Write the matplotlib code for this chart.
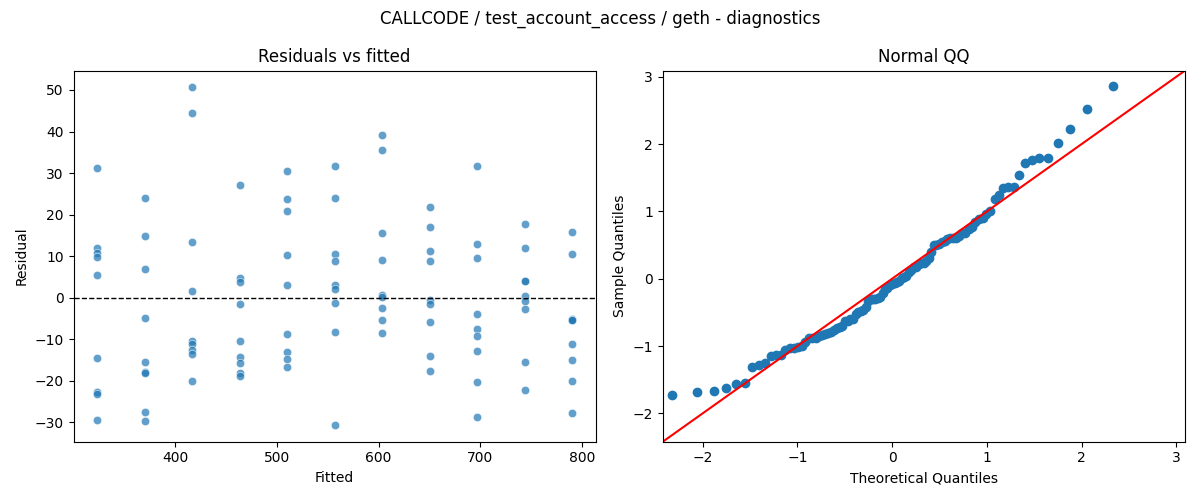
"""Residual diagnostics for one benchmark fit: residuals vs fitted and a normal QQ plot."""

from statistics import NormalDist

import matplotlib
matplotlib.use("Agg")
import matplotlib.pyplot as plt
import numpy as np
import seaborn as sns

TITLE = "CALLCODE / test_account_access / geth - diagnostics"

fitted_levels = [323.5, 370.2, 416.8, 463.5, 510.1, 556.8,
                 603.4, 650.1, 696.7, 743.4, 790.0]
resid_groups = [
    [31.2, 12.0, 10.7, 9.9, 5.4, -14.5, -22.7, -23.2, -29.4],
    [24.0, 14.8, 6.9, -4.9, -15.5, -17.9, -18.1, -27.5, -29.7],
    [50.6, 44.4, 13.4, 1.6, -10.5, -11.1, -12.5, -13.5, -20.0],
    [27.1, 4.7, 3.7, -1.5, -10.5, -14.3, -15.7, -18.1, -18.8],
    [30.4, 23.7, 20.8, 10.3, 3.0, -8.7, -13.1, -14.7, -16.6],
    [31.7, 24.0, 10.6, 8.9, 3.0, 2.2, -1.3, -8.3, -30.6],
    [39.1, 35.5, 15.5, 9.1, 0.7, 0.1, -2.5, -5.4, -8.5],
    [21.8, 17.0, 11.2, 8.8, -0.6, -1.6, -5.8, -14.0, -17.6],
    [31.7, 12.9, 9.5, -3.9, -7.5, -9.2, -12.8, -20.3, -28.7],
    [17.8, 11.9, 4.1, 4.0, 0.3, -0.9, -2.7, -15.5, -22.2],
    [15.8, 10.6, -5.2, -5.3, -5.4, -11.1, -15.0, -20.0, -27.7],
]

# shared x/y limits of the QQ panel (the 45-degree line spans these)
QQ_LIMITS = (-2.42, 3.09)


def _qq_points(resid):
    """Standardised sample quantiles vs normal plotting positions i/(n+1)."""
    data = np.sort(np.asarray(resid, dtype=float))
    n = len(data)
    pos = np.arange(1, n + 1) / (n + 1)
    nd = NormalDist()
    theo = np.array([nd.inv_cdf(p) for p in pos])
    sample = (data - data.mean()) / data.std()
    return theo, sample


fitted = np.concatenate([[f] * len(g) for f, g in zip(fitted_levels, resid_groups)])
resid = np.concatenate(resid_groups)

fig, axes = plt.subplots(1, 2, figsize=(12, 5))
fig.suptitle(TITLE)

ax = axes[0]
sns.scatterplot(x=fitted, y=resid, ax=ax, alpha=0.7)
ax.axhline(0.0, color="black", ls="--", lw=1)
ax.set_xlabel("Fitted")
ax.set_ylabel("Residual")
ax.set_title("Residuals vs fitted")

ax = axes[1]
theo, sample = _qq_points(resid)
ax.plot(theo, sample, marker="o", linestyle="none",
        markerfacecolor="C0", markeredgecolor="C0")
ax.set_xlabel("Theoretical Quantiles")
ax.set_ylabel("Sample Quantiles")
ax.set_title("Normal QQ")
lo, hi = QQ_LIMITS
ax.plot([lo, hi], [lo, hi], "r")
ax.set_xlim(lo, hi)
ax.set_ylim(lo, hi)

plt.tight_layout()
fig.savefig("out.png", dpi=100)
